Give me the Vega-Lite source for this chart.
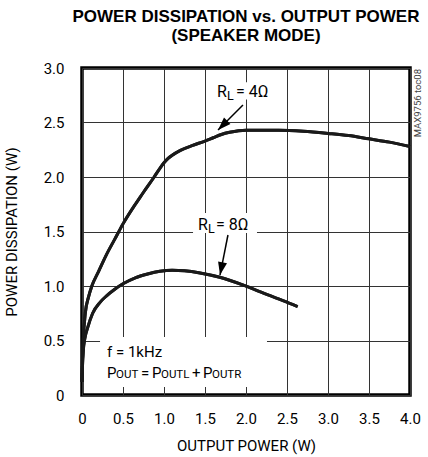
{
  "$schema": "https://vega.github.io/schema/vega-lite/v6.json",
  "width": 328,
  "height": 327,
  "autosize": {"type": "none"},
  "padding": {"left": 82, "top": 68, "right": 18, "bottom": 62},
  "background": "white",
  "config": {
    "view": {"stroke": "black", "strokeWidth": 3.5},
    "font": "Roboto"
  },
  "title": {
    "text": ["POWER DISSIPATION vs. OUTPUT POWER", "(SPEAKER MODE)"],
    "font": "Liberation Sans",
    "fontSize": 17,
    "fontWeight": "bold",
    "lineHeight": 19,
    "anchor": "middle",
    "baseline": "alphabetic",
    "offset": 3,
    "color": "black"
  },
  "datasets": {
    "curves": [
      {"load": "4Ω", "pout": 0, "pd": 0.12},
      {"load": "4Ω", "pout": 0.005, "pd": 0.3},
      {"load": "4Ω", "pout": 0.015, "pd": 0.5},
      {"load": "4Ω", "pout": 0.04, "pd": 0.75},
      {"load": "4Ω", "pout": 0.08, "pd": 0.9},
      {"load": "4Ω", "pout": 0.12, "pd": 1.0},
      {"load": "4Ω", "pout": 0.2, "pd": 1.13},
      {"load": "4Ω", "pout": 0.3, "pd": 1.29},
      {"load": "4Ω", "pout": 0.4, "pd": 1.43},
      {"load": "4Ω", "pout": 0.5, "pd": 1.57},
      {"load": "4Ω", "pout": 0.75, "pd": 1.86},
      {"load": "4Ω", "pout": 0.88, "pd": 2.0},
      {"load": "4Ω", "pout": 0.95, "pd": 2.08},
      {"load": "4Ω", "pout": 1.0, "pd": 2.13},
      {"load": "4Ω", "pout": 1.05, "pd": 2.17},
      {"load": "4Ω", "pout": 1.1, "pd": 2.2},
      {"load": "4Ω", "pout": 1.2, "pd": 2.245},
      {"load": "4Ω", "pout": 1.35, "pd": 2.29},
      {"load": "4Ω", "pout": 1.5, "pd": 2.33},
      {"load": "4Ω", "pout": 1.6, "pd": 2.36},
      {"load": "4Ω", "pout": 1.7, "pd": 2.39},
      {"load": "4Ω", "pout": 1.8, "pd": 2.41},
      {"load": "4Ω", "pout": 2.0, "pd": 2.43},
      {"load": "4Ω", "pout": 2.4, "pd": 2.43},
      {"load": "4Ω", "pout": 2.7, "pd": 2.42},
      {"load": "4Ω", "pout": 3.0, "pd": 2.4},
      {"load": "4Ω", "pout": 3.25, "pd": 2.38},
      {"load": "4Ω", "pout": 3.5, "pd": 2.35},
      {"load": "4Ω", "pout": 3.75, "pd": 2.32},
      {"load": "4Ω", "pout": 4.0, "pd": 2.28},
      {"load": "8Ω", "pout": 0, "pd": 0.12},
      {"load": "8Ω", "pout": 0.005, "pd": 0.25},
      {"load": "8Ω", "pout": 0.015, "pd": 0.4},
      {"load": "8Ω", "pout": 0.035, "pd": 0.52},
      {"load": "8Ω", "pout": 0.07, "pd": 0.62},
      {"load": "8Ω", "pout": 0.13, "pd": 0.75},
      {"load": "8Ω", "pout": 0.22, "pd": 0.85},
      {"load": "8Ω", "pout": 0.3, "pd": 0.91},
      {"load": "8Ω", "pout": 0.4, "pd": 0.97},
      {"load": "8Ω", "pout": 0.5, "pd": 1.02},
      {"load": "8Ω", "pout": 0.65, "pd": 1.075},
      {"load": "8Ω", "pout": 0.8, "pd": 1.11},
      {"load": "8Ω", "pout": 0.95, "pd": 1.135},
      {"load": "8Ω", "pout": 1.1, "pd": 1.145},
      {"load": "8Ω", "pout": 1.25, "pd": 1.14},
      {"load": "8Ω", "pout": 1.44, "pd": 1.12},
      {"load": "8Ω", "pout": 1.68, "pd": 1.08},
      {"load": "8Ω", "pout": 1.96, "pd": 1.01},
      {"load": "8Ω", "pout": 2.1, "pd": 0.97},
      {"load": "8Ω", "pout": 2.26, "pd": 0.92},
      {"load": "8Ω", "pout": 2.45, "pd": 0.865},
      {"load": "8Ω", "pout": 2.63, "pd": 0.81}
    ],
    "masks": [
      {"x1": 1.585, "x2": 2.366, "y1": 2.71, "y2": 2.87},
      {"x1": 1.354, "x2": 2.134, "y1": 1.486, "y2": 1.67},
      {"x1": 0.22, "x2": 2.256, "y1": 0.073, "y2": 0.532}
    ],
    "arrows": [
      {"label": "4Ω", "x1": 1.963, "y1": 2.66, "x2": 1.659, "y2": 2.431, "dir": 225},
      {"label": "8Ω", "x1": 1.78, "y1": 1.468, "x2": 1.683, "y2": 1.1, "dir": 191.3}
    ],
    "bigText": [
      {"t": "R", "x": 1.646, "y": 2.734},
      {"t": "= 4Ω", "x": 1.878, "y": 2.734},
      {"t": "R", "x": 1.415, "y": 1.514},
      {"t": "= 8Ω", "x": 1.634, "y": 1.514}
    ],
    "noteText": [
      {"t": "f = 1kHz", "x": 0.305, "y": 0.349},
      {"t": "P", "x": 0.305, "y": 0.156},
      {"t": "=", "x": 0.72, "y": 0.156},
      {"t": "P", "x": 0.854, "y": 0.156},
      {"t": "+", "x": 1.341, "y": 0.156},
      {"t": "P", "x": 1.476, "y": 0.156}
    ],
    "subText": [
      {"t": "L", "x": 1.768, "y": 2.706},
      {"t": "L", "x": 1.537, "y": 1.486}
    ],
    "capsText": [
      {"t": "OUT", "x": 0.415, "y": 0.156},
      {"t": "OUTL", "x": 0.963, "y": 0.156},
      {"t": "OUTR", "x": 1.585, "y": 0.156}
    ],
    "note": [
      {"t": "MAX9756 toc08", "x": 4.0, "y": 3.0}
    ]
  },
  "layer": [
    {
      "data": {"name": "curves"},
      "mark": {"type": "line", "color": "#1a1a1a", "strokeWidth": 3, "interpolate": "monotone"},
      "encoding": {
        "x": {
          "field": "pout", "type": "quantitative",
          "scale": {"domain": [0, 4], "nice": false, "zero": false},
          "axis": {
            "values": [0, 0.5, 1, 1.5, 2, 2.5, 3, 3.5, 4],
            "labelExpr": "datum.value == 0 ? '0' : format(datum.value, '.1f')",
            "grid": true, "gridColor": "#333", "gridWidth": 1,
            "domain": false, "ticks": false, "tickSize": 0,
            "labelFont": "Roboto", "labelFontSize": 15, "labelColor": "black",
            "labelPadding": 16, "labelFlush": false, "labelOverlap": false,
            "title": "OUTPUT POWER (W)",
            "titleFont": "Roboto", "titleFontSize": 15, "titleFontWeight": "normal",
            "titleColor": "black", "titlePadding": 12
          }
        },
        "y": {
          "field": "pd", "type": "quantitative",
          "scale": {"domain": [0, 3], "nice": false, "zero": false},
          "axis": {
            "values": [0, 0.5, 1, 1.5, 2, 2.5, 3],
            "labelExpr": "datum.value == 0 ? '0' : format(datum.value, '.1f')",
            "grid": true, "gridColor": "#333", "gridWidth": 1,
            "domain": false, "ticks": false, "tickSize": 0,
            "labelFont": "Roboto", "labelFontSize": 15, "labelColor": "black",
            "labelPadding": 18, "labelFlush": false, "labelOverlap": false,
            "title": "POWER DISSIPATION (W)",
            "titleFont": "Roboto", "titleFontSize": 15, "titleFontWeight": "normal",
            "titleColor": "black", "titlePadding": 24
          }
        },
        "detail": {"field": "load"}
      }
    },
    {
      "data": {"name": "masks"},
      "mark": {"type": "rect", "fill": "white", "stroke": null},
      "encoding": {
        "x": {"field": "x1", "type": "quantitative"},
        "x2": {"field": "x2"},
        "y": {"field": "y1", "type": "quantitative"},
        "y2": {"field": "y2"}
      }
    },
    {
      "data": {"name": "curves"},
      "mark": {"type": "line", "color": "#1a1a1a", "strokeWidth": 3, "interpolate": "monotone"},
      "encoding": {
        "x": {"field": "pout", "type": "quantitative"},
        "y": {"field": "pd", "type": "quantitative"},
        "detail": {"field": "load"}
      }
    },
    {
      "data": {"name": "arrows"},
      "mark": {"type": "rule", "color": "black", "strokeWidth": 1.5},
      "encoding": {
        "x": {"field": "x1", "type": "quantitative"},
        "y": {"field": "y1", "type": "quantitative"},
        "x2": {"field": "x2"},
        "y2": {"field": "y2"}
      }
    },
    {
      "data": {"name": "arrows"},
      "mark": {"type": "point", "shape": "M0,0L-0.7,2L0.7,2Z", "filled": true, "color": "black", "size": 169, "opacity": 1, "strokeWidth": 0},
      "encoding": {
        "x": {"field": "x2", "type": "quantitative"},
        "y": {"field": "y2", "type": "quantitative"},
        "angle": {"field": "dir", "type": "quantitative", "scale": null}
      }
    },
    {
      "data": {"name": "bigText"},
      "mark": {"type": "text", "font": "Roboto", "fontSize": 16, "align": "left", "baseline": "alphabetic", "color": "black"},
      "encoding": {
        "x": {"field": "x", "type": "quantitative"},
        "y": {"field": "y", "type": "quantitative"},
        "text": {"field": "t"}
      }
    },
    {
      "data": {"name": "noteText"},
      "mark": {"type": "text", "font": "Roboto", "fontSize": 15, "align": "left", "baseline": "alphabetic", "color": "black"},
      "encoding": {
        "x": {"field": "x", "type": "quantitative"},
        "y": {"field": "y", "type": "quantitative"},
        "text": {"field": "t"}
      }
    },
    {
      "data": {"name": "subText"},
      "mark": {"type": "text", "font": "Roboto", "fontSize": 12.5, "align": "left", "baseline": "alphabetic", "color": "black"},
      "encoding": {
        "x": {"field": "x", "type": "quantitative"},
        "y": {"field": "y", "type": "quantitative"},
        "text": {"field": "t"}
      }
    },
    {
      "data": {"name": "capsText"},
      "mark": {"type": "text", "font": "Roboto", "fontSize": 11.5, "align": "left", "baseline": "alphabetic", "color": "black"},
      "encoding": {
        "x": {"field": "x", "type": "quantitative"},
        "y": {"field": "y", "type": "quantitative"},
        "text": {"field": "t"}
      }
    },
    {
      "data": {"name": "note"},
      "mark": {"type": "text", "font": "Roboto", "fontSize": 9.5, "align": "right", "baseline": "middle", "angle": 270, "color": "#444", "xOffset": 8, "yOffset": 1},
      "encoding": {
        "x": {"field": "x", "type": "quantitative"},
        "y": {"field": "y", "type": "quantitative"},
        "text": {"field": "t"}
      }
    }
  ]
}
